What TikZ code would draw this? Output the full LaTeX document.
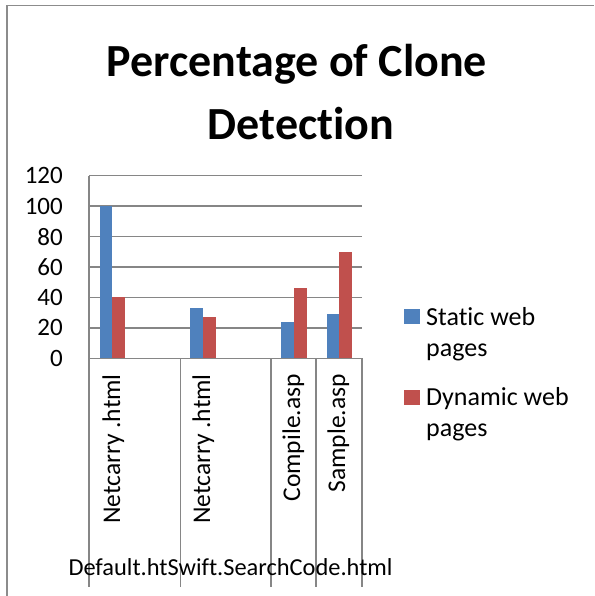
\documentclass[tikz,border=0pt]{standalone}
\usepackage{fontspec}
\setmainfont{Carlito}[Ligatures=NoCommon]
\usepackage{xcolor}
\usepackage{tikz}

\definecolor{staticblue}{HTML}{4F81BD}
\definecolor{dynamicred}{HTML}{C0504D}
\definecolor{gridgray}{HTML}{868686}
\definecolor{framegray}{HTML}{8C8C8C}

\begin{document}
\begin{tikzpicture}[x=1pt, y=-1pt,
    gridline/.style={draw=gridgray, line width=1.6pt},
    ticklabel/.style={anchor=east, inner sep=0pt, font=\fontsize{25}{30}\selectfont},
    catlabel/.style={rotate=90, anchor=base east, inner sep=0pt, font=\fontsize{25.5}{30}\selectfont},
    grouplabel/.style={inner sep=0pt, font=\fontsize{24.4}{30}\selectfont},
    legendtext/.style={anchor=base west, inner sep=0pt, font=\fontsize{26}{31}\selectfont},
    titletext/.style={anchor=base, inner sep=0pt, font=\fontsize{46}{64}\selectfont\bfseries}]
    \useasboundingbox (0,0) rectangle (594,596);
    % frame
    \draw [framegray, line width=2.5pt] (7,596) -- (7,5);
    \draw [framegray, line width=1.4pt] (6,5.6) -- (594,5.6);
    % title
    \node (title1) [titletext] at (297,77) {Percentage of Clone};
    \node (title2) [titletext] at (301,140) {Detection};
    % value grid and ticks
    \foreach \v in {0,20,...,120} {
      \draw [gridline] (89,{358.3-1.5217*\v}) -- (362,{358.3-1.5217*\v});
      \node (tick\v) [ticklabel] at (63,{358.3-1.5217*\v}) {\v};
    }
    % axis and category dividers
    \draw [gridline] (89,175.7) -- (89,587);
    \foreach \x in {180.3,270.7,316,361.7}
      \draw [gridline] (\x,358.3) -- (\x,587);
    % bars
    \foreach \x/\s/\d in {112.3/100/40, 203/33/27, 294/24/46, 339.3/29/70} {
      \fill [staticblue] (\x-12.6,358.3) rectangle (\x,{358.3-1.5217*\s});
      \fill [dynamicred] (\x,358.3) rectangle (\x+13,{358.3-1.5217*\d});
    }
    % category labels
    \node (netcarryone) [catlabel] at (120,374) {Netcarry .html};
    \node (netcarrytwo) [catlabel] at (210,374) {Netcarry .html};
    \node (compile) [catlabel] at (300,374) {Compile.asp};
    \node (sample) [catlabel] at (345,374) {Sample.asp};
    % group labels (printed run together)
    \node (groups) [grouplabel, anchor=base west] at (68.3,575) {Default.htSwift.SearchCode.html};
    % legend
    \node (keystatic) [rectangle, fill=staticblue, minimum width=16, minimum height=15, inner sep=0pt] at (412,316.5) {};
    \node (keydynamic) [rectangle, fill=dynamicred, minimum width=16, minimum height=15, inner sep=0pt] at (412,397) {};
    \node (staticline1) [legendtext] at (426,325) {Static web};
    \node (staticline2) [legendtext] at (426,356) {pages};
    \node (dynamicline1) [legendtext] at (426,405) {Dynamic web};
    \node (dynamicline2) [legendtext] at (426,436.5) {pages};
  \end{tikzpicture}
\end{document}
